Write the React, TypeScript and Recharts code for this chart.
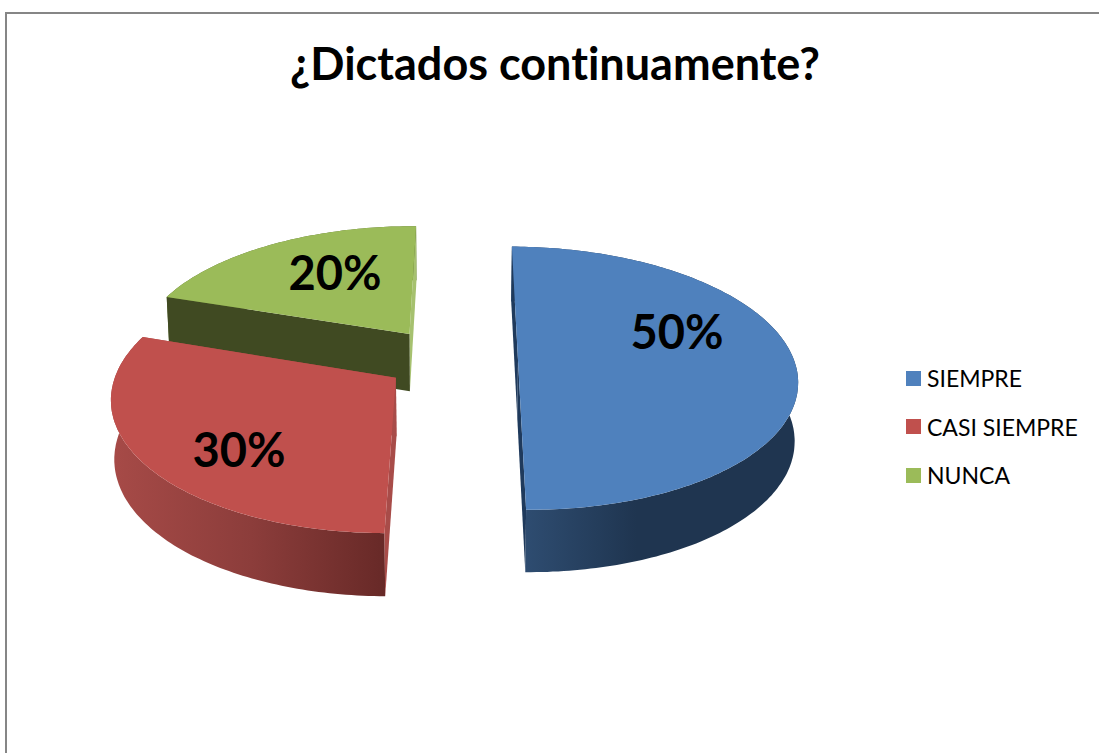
import { Legend, Pie, PieChart } from 'recharts';

const categories = ['SIEMPRE', 'CASI SIEMPRE', 'NUNCA'];
const shares = [50, 30, 20];
const topColors = ['#4f81bd', '#c0504d', '#9bbb59'];
const titleText = '¿Dictados continuamente?';

// how far each slice is pulled out of the pie
const explodeBy = [69, 64, 70];
// cut faces: [edge at start angle, edge at end angle]
const edgeColors = [
  ['#1f3a5c', '#1f3a5c'],
  ['#a84c49', '#a84c49'],
  ['#a6c16f', '#404a22'],
];
// outer wall gradient, stops as [offset, colour], spanning wallRange in px
const wallStops = [
  [['0', '#2e4c70'], ['0.45', '#1f3550'], ['1', '#1f3550']],
  [['0', '#a64a47'], ['0.5', '#8c3d3b'], ['1', '#672927']],
  [['0', '#5a6e30'], ['1', '#5a6e30']],
];
const wallRange = [
  [527, 770],
  [115, 387],
  [165, 415],
];
const labelAnchors = [
  [677, 331],
  [239, 449],
  [335, 272],
];

// drawn back to front, so the pie runs counter-clockwise from the top
const order = [2, 1, 0];
const rows = order.map((i) => ({ name: categories[i], value: shares[i], idx: i }));

const CX = 449;
const CY = 360;
const RADIUS = 276;
const SQUASH = 0.4677;
const VIEW_DIST = 2030;

function project(X: number, Y: number, cx: number, cy: number, lower: boolean) {
  const s = 1 / (1 - Y / VIEW_DIST);
  const y = cy + SQUASH * Y * s;
  if (!lower) return [cx + X * s, y];
  return [cx + X * s * 0.99, y + 30 + 28 * s];
}

const toPath = (pts: number[][]) =>
  pts.map((p, i) => `${i ? 'L' : 'M'}${p[0].toFixed(1)} ${p[1].toFixed(1)}`).join(' ') + ' Z';

function Slice3D(props: any) {
  const { cx, cy, outerRadius, startAngle, endAngle, payload } = props;
  const idx = payload.idx;
  const mid = ((startAngle + endAngle) / 2) * (Math.PI / 180);
  const ox = explodeBy[idx] * Math.cos(mid);
  const oy = -explodeBy[idx] * Math.sin(mid);

  const arcTop: number[][] = [];
  const arcLow: number[][] = [];
  const steps = Math.ceil(endAngle - startAngle);
  for (let i = 0; i <= steps; i++) {
    const a = (startAngle + ((endAngle - startAngle) * i) / steps) * (Math.PI / 180);
    const X = ox + outerRadius * Math.cos(a);
    const Y = oy - outerRadius * Math.sin(a);
    arcTop.push(project(X, Y, cx, cy, false));
    arcLow.push(project(X, Y, cx, cy, true));
  }
  const apexTop = project(ox, oy, cx, cy, false);
  const apexLow = project(ox, oy, cx, cy, true);
  const last = arcTop.length - 1;
  const gradId = `wall-${idx}`;

  return (
    <g>
      <defs>
        <linearGradient
          id={gradId}
          gradientUnits="userSpaceOnUse"
          x1={wallRange[idx][0]}
          x2={wallRange[idx][1]}
          y1={0}
          y2={0}
        >
          {wallStops[idx].map(([o, c]) => (
            <stop key={o} offset={o} stopColor={c} />
          ))}
        </linearGradient>
      </defs>
      <path d={toPath([...arcTop, ...[...arcLow].reverse()])} fill={`url(#${gradId})`} />
      <path d={toPath([apexTop, arcTop[0], arcLow[0], apexLow])} fill={edgeColors[idx][0]} />
      <path d={toPath([apexTop, arcTop[last], arcLow[last], apexLow])} fill={edgeColors[idx][1]} />
      <path d={toPath([apexTop, ...arcTop])} fill={topColors[idx]} />
    </g>
  );
}

function renderLabel(props: any) {
  const idx = props.payload.idx;
  return (
    <text
      x={labelAnchors[idx][0]}
      y={labelAnchors[idx][1]}
      textAnchor="middle"
      dominantBaseline="central"
      fontFamily="Lato, sans-serif"
      fontWeight={700}
      fontSize={47}
      fill="#000"
    >
      {`${props.payload.value}%`}
    </text>
  );
}

function LegendList() {
  return (
    <div style={{ fontFamily: 'Lato, sans-serif', fontSize: 23, color: '#000' }}>
      {categories.map((c, i) => (
        <div key={c} style={{ display: 'flex', alignItems: 'center', height: 48.5 }}>
          <span style={{ width: 15, height: 15, background: topColors[i], marginRight: 6 }} />
          {c}
        </div>
      ))}
    </div>
  );
}

export default function App() {
  return (
    <div
      style={{
        position: 'fixed',
        left: 0,
        top: 0,
        width: 1099,
        height: 753,
        overflow: 'hidden',
        background: '#fff',
      }}
    >
      <div
        style={{
          position: 'absolute',
          left: 5,
          top: 12,
          width: 1200,
          height: 900,
          border: '2px solid #868686',
        }}
      />
      <div
        style={{
          position: 'absolute',
          left: 0,
          top: 33,
          width: 1110,
          textAlign: 'center',
          fontFamily: 'Lato, sans-serif',
          fontWeight: 700,
          fontSize: 45,
          lineHeight: '60px',
          fontVariantLigatures: 'none',
          color: '#000',
        }}
      >
        {titleText}
      </div>
      <div style={{ position: 'absolute', left: 0, top: 0 }}>
        <PieChart width={1099} height={753} margin={{ top: 0, right: 0, bottom: 0, left: 0 }}>
          <Pie
            data={rows}
            dataKey="value"
            nameKey="name"
            cx={CX}
            cy={CY}
            outerRadius={RADIUS}
            startAngle={89.5}
            endAngle={449.5}
            shape={Slice3D}
            label={renderLabel}
            labelLine={false}
            isAnimationActive={false}
          />
          <Legend
            content={<LegendList />}
            wrapperStyle={{ position: 'absolute', left: 906, top: 354, width: 190, bottom: 'auto' }}
          />
        </PieChart>
      </div>
    </div>
  );
}
